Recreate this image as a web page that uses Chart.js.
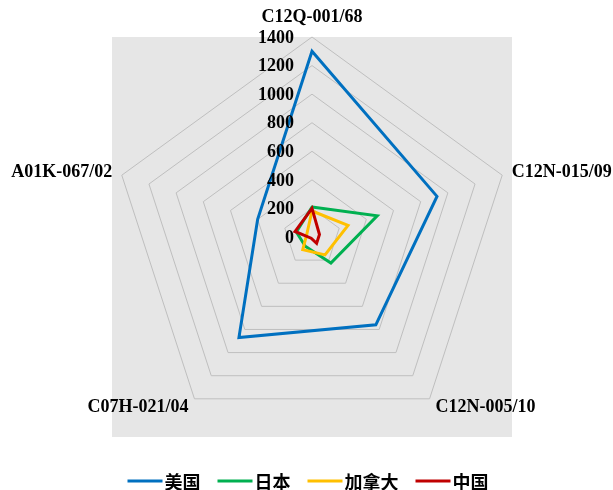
<!DOCTYPE html>
<html>
<head>
<meta charset="utf-8">
<script src="https://cdn.jsdelivr.net/npm/chart.js@4/dist/chart.umd.min.js"></script>
<style>
  html, body { margin: 0; padding: 0; background: #ffffff; }
</style>
</head>
<body>
<canvas id="radar" width="613" height="490"></canvas>
<script>
// IPC subclasses on the spokes, clockwise from the top
const categories = ['C12Q-001/68', 'C12N-015/09', 'C12N-005/10', 'C07H-021/04', 'A01K-067/02'];
const seriesNames = ['美国', '日本', '加拿大', '中国'];
const usa    = [1300, 920, 760, 870, 400];
const japan  = [210, 480, 225, 80, 115];
const canada = [182, 265, 155, 110, 40];
const china  = [200, 55, 55, 10, 125];
const tickValues = [0, 200, 400, 600, 800, 1000, 1200, 1400];
const seriesColors = ['#0070C0', '#00B050', '#FFC000', '#C00000'];

const seriesValues = [usa, japan, canada, china];

// grey plotting square behind the web
const plotBackground = {
  id: 'plotBackground',
  beforeDraw(chart) {
    const r = chart.scales.r;
    const ctx = chart.ctx;
    const d = r.drawingArea;
    ctx.save();
    ctx.fillStyle = '#E6E6E6';
    ctx.fillRect(r.xCenter - d, r.yCenter - d, d * 2, d * 2);
    ctx.restore();
  }
};

// value labels to the left of the vertical spoke, and category labels at the tips
const axisText = {
  id: 'axisText',
  afterDraw(chart) {
    const r = chart.scales.r;
    const ctx = chart.ctx;
    ctx.save();
    ctx.fillStyle = '#000000';
    ctx.font = 'bold 18px "Liberation Serif", "Times New Roman", serif';
    ctx.textAlign = 'right';
    ctx.textBaseline = 'middle';
    r.ticks.forEach(t => {
      const y = r.yCenter - r.getDistanceFromCenterForValue(t.value);
      ctx.fillText(String(t.value), r.xCenter - 18, y + 1);
    });

    categories.forEach((label, i) => {
      const probe = r.getPointPosition(i, r.drawingArea);
      const dx = probe.x - r.xCenter;
      const isTop = Math.abs(dx) < 1 && probe.y < r.yCenter;
      const p = r.getPointPosition(i, r.drawingArea + (isTop ? 20 : 10));
      ctx.textAlign = Math.abs(dx) < 1 ? 'center' : (dx > 0 ? 'left' : 'right');
      ctx.fillText(label, p.x, p.y);
    });
    ctx.restore();
  }
};

// legend row: short coloured line followed by the series name
const lineLegend = {
  id: 'lineLegend',
  afterDraw(chart) {
    const ctx = chart.ctx;
    const sample = 35, gapText = 2, gapItem = 17, y = 481;
    ctx.save();
    ctx.font = 'bold 18px "Noto Sans CJK SC", sans-serif';
    ctx.textBaseline = 'middle';
    ctx.textAlign = 'left';
    const items = chart.data.datasets.map(ds => ({
      text: ds.label, color: ds.borderColor,
      w: sample + gapText + ctx.measureText(ds.label).width
    }));
    const total = items.reduce((s, it) => s + it.w, 0) + gapItem * (items.length - 1);
    let x = chart.width / 2 + 1.5 - total / 2;
    items.forEach(it => {
      ctx.strokeStyle = it.color;
      ctx.lineWidth = 3;
      ctx.beginPath();
      ctx.moveTo(x, y);
      ctx.lineTo(x + sample, y);
      ctx.stroke();
      ctx.fillStyle = '#000000';
      ctx.fillText(it.text, x + sample + gapText, y + 1);
      x += it.w + gapItem;
    });
    ctx.restore();
  }
};

new Chart(document.getElementById('radar'), {
  type: 'radar',
  data: {
    labels: categories,
    datasets: seriesNames.map((name, i) => ({
      label: name,
      data: seriesValues[i],
      borderColor: seriesColors[i],
      backgroundColor: 'rgba(0,0,0,0)',
      borderWidth: 3,
      fill: false,
      pointRadius: 0,
      pointHoverRadius: 0,
      tension: 0,
      // later series are painted over earlier ones
      order: seriesNames.length - i
    }))
  },
  options: {
    responsive: false,
    devicePixelRatio: 1,
    animation: false,
    layout: { padding: { left: 112, right: 101, top: 37, bottom: 53 } },
    plugins: {
      legend: { display: false },
      tooltip: { enabled: false }
    },
    scales: {
      r: {
        min: 0,
        max: 1400,
        startAngle: 0,
        afterBuildTicks: s => { s.ticks = tickValues.map(v => ({ value: v })); },
        angleLines: { display: false },
        grid: { circular: false, color: '#BFBFBF', lineWidth: 1 },
        ticks: { display: false, showLabelBackdrop: false },
        pointLabels: { display: false }
      }
    }
  },
  plugins: [plotBackground, axisText, lineLegend]
});
</script>
</body>
</html>
